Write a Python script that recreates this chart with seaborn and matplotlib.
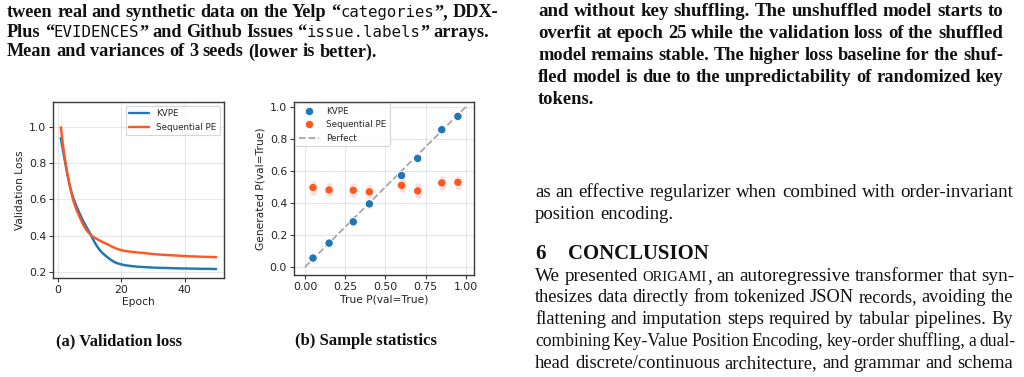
import re
import numpy as np
import pandas as pd
import matplotlib
matplotlib.use("Agg")
import matplotlib.pyplot as plt
import seaborn as sns

# ---------------- data ----------------
epochs = list(range(1, 51))
kvpe_loss = [0.940, 0.840, 0.745, 0.665, 0.605, 0.560, 0.520, 0.482, 0.450, 0.420,
             0.385, 0.352, 0.326, 0.306, 0.290, 0.276, 0.263, 0.253, 0.246, 0.241,
             0.237, 0.234, 0.232, 0.230, 0.228, 0.227, 0.226, 0.225, 0.224, 0.223,
             0.222, 0.222, 0.221, 0.221, 0.220, 0.220, 0.219, 0.219, 0.218, 0.218,
             0.218, 0.217, 0.217, 0.217, 0.216, 0.216, 0.216, 0.216, 0.215, 0.215]
kvpe_std = [0.030, 0.015, 0.012, 0.010, 0.012, 0.012, 0.012, 0.012, 0.012, 0.012,
            0.012, 0.012, 0.012, 0.012, 0.012, 0.010, 0.010, 0.009, 0.008, 0.008,
            0.007, 0.007, 0.007, 0.006, 0.006, 0.006, 0.006, 0.006, 0.006, 0.006,
            0.006, 0.006, 0.006, 0.006, 0.006, 0.006, 0.006, 0.006, 0.006, 0.006,
            0.006, 0.006, 0.006, 0.006, 0.006, 0.006, 0.006, 0.006, 0.006, 0.006]
seq_loss = [1.000, 0.860, 0.750, 0.660, 0.590, 0.540, 0.500, 0.462, 0.432, 0.412,
            0.396, 0.385, 0.375, 0.366, 0.358, 0.350, 0.340, 0.332, 0.325, 0.320,
            0.316, 0.313, 0.311, 0.309, 0.307, 0.305, 0.304, 0.302, 0.300, 0.298,
            0.297, 0.295, 0.294, 0.293, 0.292, 0.291, 0.290, 0.289, 0.288, 0.287,
            0.286, 0.285, 0.285, 0.284, 0.283, 0.283, 0.282, 0.282, 0.281, 0.281]
seq_std = [0.100, 0.030, 0.015, 0.012, 0.010, 0.010, 0.010, 0.010, 0.010, 0.010,
           0.008, 0.008, 0.008, 0.008, 0.008, 0.007, 0.007, 0.006, 0.006, 0.006,
           0.005, 0.005, 0.005, 0.005, 0.005, 0.005, 0.005, 0.005, 0.005, 0.005,
           0.005, 0.005, 0.005, 0.005, 0.005, 0.005, 0.005, 0.005, 0.005, 0.005,
           0.005, 0.005, 0.005, 0.005, 0.005, 0.005, 0.005, 0.005, 0.005, 0.005]

true_p = [0.05, 0.15, 0.30, 0.40, 0.60, 0.70, 0.85, 0.95]
kvpe_gen = [0.056, 0.149, 0.282, 0.394, 0.571, 0.678, 0.857, 0.940]
kvpe_err = [0.004, 0.004, 0.004, 0.004, 0.004, 0.004, 0.004, 0.004]
seq_gen = [0.496, 0.481, 0.479, 0.469, 0.510, 0.475, 0.525, 0.529]
seq_err = [0.025, 0.022, 0.026, 0.022, 0.026, 0.028, 0.026, 0.022]

series_names = ["KVPE", "Sequential PE"]
perfect_label = "Perfect"
left_xlabel, left_ylabel = "Epoch", "Validation Loss"
right_xlabel, right_ylabel = "True P(val=True)", "Generated P(val=True)"
left_yticks = [0.2, 0.4, 0.6, 0.8, 1.0]
left_xticks = [0, 20, 40]
right_xticks = [0.0, 0.25, 0.5, 0.75, 1.0]
right_yticks = [0.0, 0.2, 0.4, 0.6, 0.8, 1.0]

caption_a = "(a) Validation loss"
caption_b = "(b) Sample statistics"
left_caption_lines = [
    "tween real and synthetic data on the Yelp “[categories]”, DDX-",
    "Plus “[EVIDENCES]” and Github Issues “[issue.labels]” arrays.",
    "Mean and variances of 3 seeds (lower is better).",
]
right_caption_lines = [
    "and without key shuffling. The unshuffled model starts to",
    "overfit at epoch 25 while the validation loss of the shuffled",
    "model remains stable. The higher loss baseline for the shuf-",
    "fled model is due to the unpredictability of randomized key",
    "tokens.",
]
body_lines_1 = [
    "as an effective regularizer when combined with order-invariant",
    "position encoding.",
]
heading_num, heading_text = "6", "CONCLUSION"
body_lines_2 = [
    "We presented {ORIGAMI}, an autoregressive transformer that syn-",
    "thesizes data directly from tokenized JSON records, avoiding the",
    "flattening and imputation steps required by tabular pipelines. By",
    "combining Key-Value Position Encoding, key-order shuffling, a dual-",
    "head discrete/continuous architecture, and grammar and schema",
]

BLUE = "#1f77b4"
ORANGE = "#ff5722"
SPINE = "#3a3a3a"

# ---------------- style ----------------
sns.set_theme(style="ticks", rc={
    "axes.edgecolor": SPINE, "axes.linewidth": 1.0,
    "xtick.color": SPINE, "ytick.color": SPINE,
    "xtick.labelcolor": "#222222", "ytick.labelcolor": "#222222",
    "xtick.major.size": 3.0, "ytick.major.size": 3.0,
    "xtick.major.width": 0.8, "ytick.major.width": 0.8,
    "axes.labelcolor": "#222222",
})
plt.rcParams["font.family"] = ["DejaVu Sans"]

W, H = 1024, 377
fig = plt.figure(figsize=(W / 100, H / 100), dpi=100)
renderer = fig.canvas.get_renderer()

TICK_FS = 7.8
LAB_FS = 7.7
LEG_FS = 6.3

# ---------------- left chart ----------------
axL = fig.add_axes([53 / W, 1 - 278 / H, 171 / W, 176 / H])
df_loss = pd.DataFrame({
    "epoch": epochs * 2,
    "loss": kvpe_loss + seq_loss,
    "std": kvpe_std + seq_std,
    "model": [series_names[0]] * len(epochs) + [series_names[1]] * len(epochs),
})
for name, col in zip(series_names, [BLUE, ORANGE]):
    d = df_loss[df_loss["model"] == name]
    axL.fill_between(d["epoch"], d["loss"] - d["std"], d["loss"] + d["std"],
                     color=col, alpha=0.2, linewidth=0)
sns.lineplot(data=df_loss, x="epoch", y="loss", hue="model",
             palette=[BLUE, ORANGE], linewidth=1.7, ax=axL)
axL.set_xlim(-1.45, 52.45)
axL.set_ylim(0.165, 1.14)
axL.set_xticks(left_xticks)
axL.set_yticks(left_yticks)
axL.set_yticklabels([f"{v:.1f}" for v in left_yticks])
axL.tick_params(labelsize=TICK_FS, pad=2)
axL.set_xlabel(left_xlabel, fontsize=LAB_FS, labelpad=1.5)
axL.set_ylabel(left_ylabel, fontsize=LAB_FS, labelpad=3)
axL.grid(True, color="#b0b0b0", alpha=0.3, linewidth=0.8)
legL = axL.legend(loc="upper right", fontsize=LEG_FS, frameon=True,
                  borderaxespad=0.45, handlelength=2.3, fancybox=True)
legL.get_frame().set_edgecolor("#cccccc")
legL.get_frame().set_linewidth(0.8)

# ---------------- right chart ----------------
axR = fig.add_axes([294 / W, 1 - 275 / H, 180 / W, 173 / H])
axR.errorbar(true_p, seq_gen, yerr=seq_err, fmt="none", ecolor=ORANGE,
             elinewidth=4.8, alpha=0.2, zorder=2)
axR.errorbar(true_p, kvpe_gen, yerr=kvpe_err, fmt="none", ecolor=BLUE,
             elinewidth=4.8, alpha=0.2, zorder=2)
for c in axR.collections:
    c.set_capstyle("round")
df_sc = pd.DataFrame({
    "true": true_p * 2,
    "gen": kvpe_gen + seq_gen,
    "model": [series_names[0]] * len(true_p) + [series_names[1]] * len(true_p),
})
sns.scatterplot(data=df_sc, x="true", y="gen", hue="model",
                palette=[BLUE, ORANGE], s=36, edgecolor="white",
                linewidth=0.6, ax=axR, zorder=3)
axR.plot([0, 1], [0, 1], linestyle="--", color="#a6a6a6", linewidth=1.3,
         label=perfect_label, zorder=1)
axR.set_xlim(-0.068, 1.05)
axR.set_ylim(-0.05, 1.03)
axR.set_xticks(right_xticks)
axR.set_xticklabels([f"{v:.2f}" for v in right_xticks])
axR.set_yticks(right_yticks)
axR.set_yticklabels([f"{v:.1f}" for v in right_yticks])
axR.tick_params(labelsize=TICK_FS, pad=2)
axR.set_xlabel(right_xlabel, fontsize=LAB_FS, labelpad=1.5)
axR.set_ylabel(right_ylabel, fontsize=LAB_FS, labelpad=3)
axR.grid(True, color="#b0b0b0", alpha=0.3, linewidth=0.8)
handles, labels = axR.get_legend_handles_labels()
legR = axR.legend(handles, labels, loc="upper left", fontsize=LEG_FS,
                  frameon=True, borderaxespad=0.15, handlelength=2.3,
                  fancybox=True, markerscale=1.0)
legR.get_frame().set_edgecolor("#cccccc")
legR.get_frame().set_linewidth(0.8)

# ---------------- page text ----------------
SERIF = "Liberation Serif"
MONO = "DejaVu Sans Mono"
INK = "#111111"


def parse(word):
    out = []
    for m in re.finditer(r"\[([^\]]*)\]|\{([^}]*)\}|([^\[\{]+)", word):
        if m.group(1) is not None:
            out.append((m.group(1), "mono"))
        elif m.group(2) is not None:
            out.append((m.group(2), "sc"))
        else:
            out.append((m.group(3), "serif"))
    return out


def font_kw(kind, size, weight):
    if kind == "mono":
        return dict(family=MONO, size=size * 0.86, weight="normal")
    if kind == "sc":
        return dict(family=SERIF, size=size * 0.76, weight=weight)
    return dict(family=SERIF, size=size, weight=weight)


def ink_width(s, kw):
    t = fig.text(0, 0, s, **kw)
    w = t.get_window_extent(renderer).width
    t.remove()
    return w


def metrics(s, kind, size, weight):
    """Return (advance width, left side bearing) in pixels."""
    kw = font_kw(kind, size, weight)
    bar = ink_width("|", kw)
    bb = ink_width("||", kw)
    bar_side = (bb - 2 * bar) / 2.0
    adv = ink_width("|" + s + "|", kw) - bb
    lsb = ink_width("|" + s, kw) - bar - ink_width(s, kw) - bar_side
    return adv, lsb


def space_px(size):
    return size * 0.25 * 100 / 72


def measure_words(line, size, weight):
    groups = []
    for w in line.split(" "):
        pieces = parse(w)
        ms = [metrics(s, k, size, weight) for s, k in pieces]
        groups.append((pieces, ms))
    return groups


def natural_width(line, size, weight):
    groups = measure_words(line, size, weight)
    return sum(sum(m[0] for m in ms) for _, ms in groups) + (len(groups) - 1) * space_px(size)


def line_sizes(lines, widths, weight, spread=0.05):
    ratios = [w / natural_width(l, 10, weight) for l, w in zip(lines, widths)]
    med = float(np.median(ratios))
    sizes = [10 * min(max(r, med * (1 - spread)), med * (1 + spread)) for r in ratios]
    return sizes, 10 * med


def draw_line(line, x0, x1, base, size, weight, justify):
    groups = measure_words(line, size, weight)
    total = sum(sum(m[0] for m in ms) for _, ms in groups)
    if justify and len(groups) > 1:
        gap = (x1 - x0 - total) / (len(groups) - 1)
    else:
        gap = space_px(size)
    x = x0
    for pieces, ms in groups:
        for (s, k), (adv, lsb) in zip(pieces, ms):
            fig.text((x + lsb) / W, 1 - base / H, s, va="baseline", ha="left",
                     color=INK, **font_kw(k, size, weight))
            x += adv
        x += gap


# left caption block
lc_x0, lc_ends = 7, [498, 489]
lc_base = [17, 37, 56.5]
lc_sizes, lc_med = line_sizes(left_caption_lines[:2], [e - lc_x0 for e in lc_ends], "bold")
for i, line in enumerate(left_caption_lines):
    if i < 2:
        draw_line(line, lc_x0, lc_ends[i], lc_base[i], lc_sizes[i], "bold", True)
    else:
        draw_line(line, lc_x0, 0, lc_base[i], lc_med, "bold", False)

# right caption block
rc_x0, rc_x1 = 538, 1003
rc_base = [15.7, 37.8, 60, 82.2, 104.3]
rc_sizes, rc_med = line_sizes(right_caption_lines[:4], [rc_x1 - rc_x0] * 4, "bold")
for i, line in enumerate(right_caption_lines):
    if i < 4:
        draw_line(line, rc_x0, rc_x1, rc_base[i], rc_sizes[i], "bold", True)
    else:
        draw_line(line, rc_x0, 0, rc_base[i], rc_med, "bold", False)

# body text
bx0 = 535
b1_end = 1013
b2_ends = [1015, 1013, 1013, 1015, 1013]
all_full = [body_lines_1[0]] + body_lines_2
all_ends = [b1_end] + b2_ends
b_sizes, b_med = line_sizes(all_full, [e - bx0 for e in all_ends], "normal")
draw_line(body_lines_1[0], bx0, b1_end, 197.3, b_sizes[0], "normal", True)
draw_line(body_lines_1[1], bx0, 0, 219.3, b_med, "normal", False)
b2_base = [280.7, 302.5, 324.3, 346, 367.8]
for i, line in enumerate(body_lines_2):
    draw_line(line, bx0, b2_ends[i], b2_base[i], b_sizes[i + 1], "normal", True)

# heading
h_size = 10 * 140 / metrics(heading_text, "serif", 10, "bold")[0]
fig.text(535 / W, 1 - 259.3 / H, heading_num, family=SERIF, weight="bold",
         size=h_size, va="baseline", ha="left", color=INK)
fig.text(568 / W, 1 - 259.3 / H, heading_text, family=SERIF, weight="bold",
         size=h_size, va="baseline", ha="left", color=INK)

# sub-captions
cap_sizes, cap_med = line_sizes([caption_a, caption_b], [128, 142], "bold", spread=0.0)
fig.text(119 / W, 1 - 345 / H, caption_a, family=SERIF, weight="bold",
         size=cap_med, va="baseline", ha="center", color=INK)
fig.text(366 / W, 1 - 345 / H, caption_b, family=SERIF, weight="bold",
         size=cap_med, va="baseline", ha="center", color=INK)

fig.savefig("out.png", dpi=100)
